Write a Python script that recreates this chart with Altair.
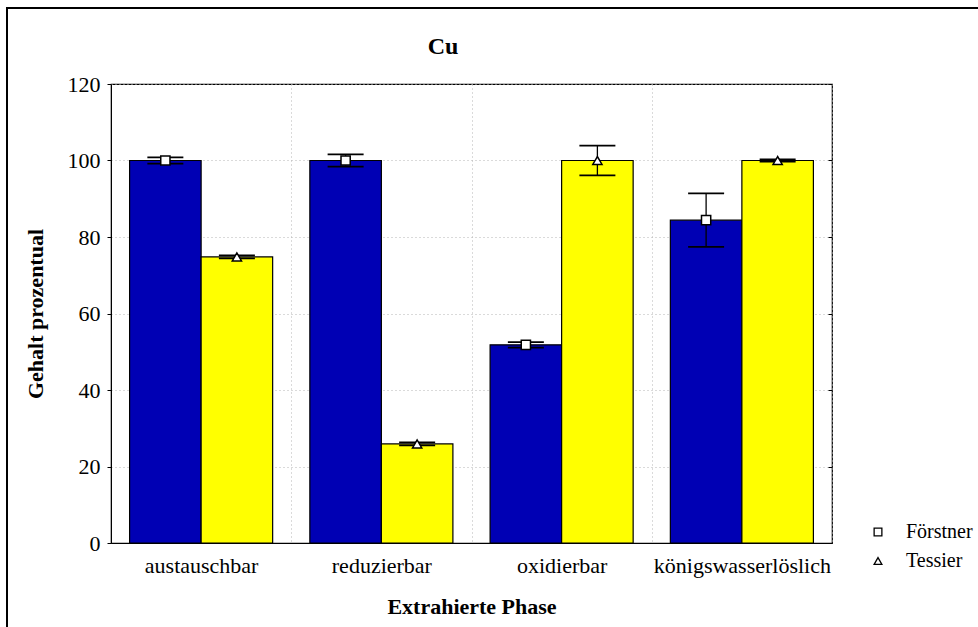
import altair as alt
import pandas as pd

# Extraction phases and the two sequential extraction schemes
phases = ["austauschbar", "reduzierbar", "oxidierbar", "königswasserlöslich"]
schemes = ["Förstner", "Tessier"]

# Relative copper content (%) per phase and scheme, with error (±)
foerstner_mean = [100.0, 100.0, 51.8, 84.4]
foerstner_err = [0.8, 1.6, 0.7, 7.0]
tessier_mean = [74.8, 25.9, 100.0, 100.0]
tessier_err = [0.4, 0.4, 3.9, 0.3]

y_ticks = [0, 20, 40, 60, 80, 100, 120]

rows = []
for i, p in enumerate(phases):
    for s, m, e in (("Förstner", foerstner_mean[i], foerstner_err[i]),
                    ("Tessier", tessier_mean[i], tessier_err[i])):
        rows.append({"phase": p, "scheme": s, "value": m,
                     "lo": m - e, "hi": m + e})
df = pd.DataFrame(rows)
legend_df = pd.DataFrame({"scheme": schemes})

FONT = "Liberation Serif"
GRID = dict(grid=True, gridDash=[1, 3], gridColor="#b4b4b4")

x_enc = alt.X(
    "phase:N",
    sort=phases,
    scale=alt.Scale(paddingInner=0, paddingOuter=0),
    axis=alt.Axis(
        title="Extrahierte Phase",
        labelAngle=0,
        ticks=False,
        tickBand="extent",
        labelPadding=12,
        titlePadding=20,
        **GRID,
    ),
)
off_enc = alt.XOffset(
    "scheme:N", sort=schemes,
    scale=alt.Scale(paddingOuter=0.26, paddingInner=0),
)
y_scale = alt.Scale(domain=[0, 120], nice=False)
shape_scale = alt.Scale(domain=schemes, range=["square", "triangle-up"])

bars = alt.Chart(df).mark_bar(stroke="black", strokeWidth=1.2).encode(
    x=x_enc,
    xOffset=off_enc,
    y=alt.Y(
        "value:Q",
        scale=y_scale,
        axis=alt.Axis(
            title="Gehalt prozentual",
            values=y_ticks,
            tickSize=4,
            labelPadding=7,
            titlePadding=20,
            **GRID,
        ),
    ),
    color=alt.Color(
        "scheme:N",
        sort=schemes,
        scale=alt.Scale(domain=schemes, range=["#0000B4", "#FFFF00"]),
        legend=None,
    ),
)

whisker = alt.Chart(df).mark_rule(color="black", strokeWidth=1.3).encode(
    x=alt.X("phase:N", sort=phases),
    xOffset=off_enc,
    y=alt.Y("lo:Q", scale=y_scale),
    y2="hi:Q",
)

cap_lo = alt.Chart(df).mark_tick(
    color="black", size=36, thickness=1.8, orient="horizontal", opacity=1
).encode(
    x=alt.X("phase:N", sort=phases),
    xOffset=off_enc,
    y=alt.Y("lo:Q", scale=y_scale),
)
cap_hi = cap_lo.encode(y=alt.Y("hi:Q", scale=y_scale))

points = alt.Chart(df).mark_point(
    filled=True, fill="white", stroke="black", strokeWidth=1.5,
    size=85, opacity=1,
).encode(
    x=alt.X("phase:N", sort=phases),
    xOffset=off_enc,
    y=alt.Y("value:Q", scale=y_scale),
    shape=alt.Shape("scheme:N", sort=schemes, scale=shape_scale, legend=None),
)

plot = alt.layer(bars, whisker, cap_lo, cap_hi, points)

# Inward tick marks along the right edge of the plot frame
right_ticks = alt.Chart(df).mark_point(opacity=0).encode(
    y=alt.Y(
        "value:Q",
        scale=y_scale,
        axis=alt.Axis(
            orient="right", values=y_ticks, labels=False, domain=False,
            grid=False, tickSize=4, offset=-4, title="",
        ),
    ),
)

# Marker key at the lower right, outside the plot frame
key_y = alt.Y(
    "scheme:N", sort=schemes,
    scale=alt.Scale(type="point", range=[448, 477], padding=0),
    axis=None,
)
key_symbols = alt.Chart(legend_df).mark_point(
    filled=True, fill="white", stroke="black", strokeWidth=1.3,
    size=60, opacity=1,
).encode(
    x=alt.value(767),
    y=key_y,
    shape=alt.Shape("scheme:N", sort=schemes, scale=shape_scale, legend=None),
)
key_labels = alt.Chart(legend_df).mark_text(
    font=FONT, fontSize=20, color="black", align="left", baseline="middle",
).encode(
    x=alt.value(795),
    y=key_y,
    text="scheme:N",
)
key = alt.layer(key_symbols, key_labels)

# Outer border around the whole figure
frame = alt.Chart(alt.Data(values=[{}])).mark_rect(
    fill=None, stroke="black", strokeWidth=2
).encode(
    x=alt.value(-104), x2=alt.value(900),
    y=alt.value(-76), y2=alt.value(600),
)

# Element symbol heading
heading = alt.Chart(alt.Data(values=[{"label": "Cu"}])).mark_text(
    font=FONT, fontSize=24, fontWeight="bold", color="black",
    align="center", baseline="alphabetic",
).encode(
    x=alt.value(332), y=alt.value(-30), text="label:N",
)

chart = alt.layer(frame, plot, right_ticks, key, heading).resolve_scale(
    y="independent"
).properties(
    width=721,
    height=459,
    background="white",
    autosize=alt.AutoSizeParams(type="none"),
    padding={"left": 111, "top": 84, "right": 146, "bottom": 84},
).configure_view(
    stroke="black", strokeWidth=1.2,
).configure_axis(
    labelFont=FONT, titleFont=FONT, labelFontSize=22, titleFontSize=22,
    titleFontWeight="bold", labelColor="black", titleColor="black",
    domainColor="black", tickColor="black",
)

chart.save("out.html", embed_options={"renderer": "svg", "actions": False})
